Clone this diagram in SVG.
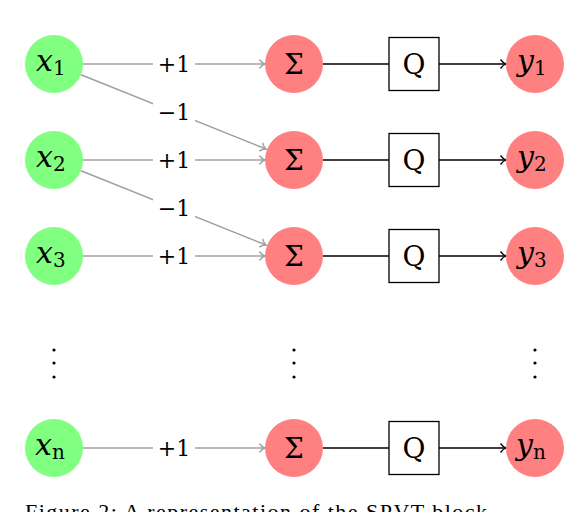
<svg xmlns="http://www.w3.org/2000/svg" width="564" height="512" viewBox="0 0 564 512">
<style>
.in{fill:#80ff80}
.sum{fill:#ff8080}
.out{fill:#ff8080}
.g{stroke:#a0a0a0;stroke-width:1.5;fill:none}
.k{stroke:#000;stroke-width:1.3;fill:none}
text{font-family:"DejaVu Serif","Liberation Serif",serif}
.math{font-style:italic;font-size:30px;fill:#000}
.sub{font-style:normal;font-size:20px}
.rm{font-size:28px;fill:#000;text-anchor:middle}
.lbl{font-size:22px;fill:#000;text-anchor:middle}
.bg{fill:#fff}
.dot{fill:#000}
</style>
<defs>
<marker id="ag" markerUnits="userSpaceOnUse" markerWidth="12" markerHeight="12" refX="10" refY="6" orient="auto">
<path d="M4.5 1.5 Q7 5 10 6 Q7 7 4.5 10.5" fill="none" stroke="#a0a0a0" stroke-width="1.4"/>
</marker>
<marker id="ak" markerUnits="userSpaceOnUse" markerWidth="12" markerHeight="12" refX="10" refY="6" orient="auto">
<path d="M4.5 1.5 Q7 5 10 6 Q7 7 4.5 10.5" fill="none" stroke="#000" stroke-width="1.3"/>
</marker>
</defs>
<g id="connectors">
<line class="g" x1="83" y1="64" x2="265" y2="64" marker-end="url(#ag)"/>
<line class="g" x1="83" y1="160" x2="265" y2="160" marker-end="url(#ag)"/>
<line class="g" x1="83" y1="256" x2="265" y2="256" marker-end="url(#ag)"/>
<line class="g" x1="83" y1="448" x2="265" y2="448" marker-end="url(#ag)"/>
<line class="g" x1="81" y1="74.8" x2="266" y2="149" marker-end="url(#ag)"/>
<line class="g" x1="81" y1="170.8" x2="266" y2="245" marker-end="url(#ag)"/>
<rect class="bg" x="153" y="50" width="42" height="28"/>
<rect class="bg" x="153" y="146" width="42" height="28"/>
<rect class="bg" x="153" y="242" width="42" height="28"/>
<rect class="bg" x="153" y="434" width="42" height="28"/>
<rect class="bg" x="153" y="98" width="42" height="28"/>
<rect class="bg" x="153" y="194" width="42" height="28"/>
<text class="lbl" x="174" y="72">+1</text>
<text class="lbl" x="174" y="168">+1</text>
<text class="lbl" x="174" y="264">+1</text>
<text class="lbl" x="174" y="456">+1</text>
<text class="lbl" x="174" y="120">−1</text>
<text class="lbl" x="174" y="216">−1</text>
<line class="k" x1="323" y1="64" x2="389" y2="64"/>
<line class="k" x1="323" y1="160" x2="389" y2="160"/>
<line class="k" x1="323" y1="256" x2="389" y2="256"/>
<line class="k" x1="323" y1="448" x2="389" y2="448"/>
<line class="k" x1="439" y1="64" x2="506" y2="64" marker-end="url(#ak)"/>
<line class="k" x1="439" y1="160" x2="506" y2="160" marker-end="url(#ak)"/>
<line class="k" x1="439" y1="256" x2="506" y2="256" marker-end="url(#ak)"/>
<line class="k" x1="439" y1="448" x2="506" y2="448" marker-end="url(#ak)"/>
</g>
<g id="x1"><circle class="in" cx="54" cy="64" r="29"/><text class="math" x="36" y="71">x<tspan class="sub" dy="4">1</tspan></text></g>
<g id="x2"><circle class="in" cx="54" cy="160" r="29"/><text class="math" x="36" y="167">x<tspan class="sub" dy="4">2</tspan></text></g>
<g id="x3"><circle class="in" cx="54" cy="256" r="29"/><text class="math" x="36" y="263">x<tspan class="sub" dy="4">3</tspan></text></g>
<g id="xn"><circle class="in" cx="54" cy="448" r="29"/><text class="math" x="35" y="455">x<tspan class="sub" dy="4" font-style="italic">n</tspan></text></g>
<g id="s1"><circle class="sum" cx="294" cy="64" r="29"/><text class="rm" x="294" y="74">Σ</text></g>
<g id="s2"><circle class="sum" cx="294" cy="160" r="29"/><text class="rm" x="294" y="170">Σ</text></g>
<g id="s3"><circle class="sum" cx="294" cy="256" r="29"/><text class="rm" x="294" y="266">Σ</text></g>
<g id="sn"><circle class="sum" cx="294" cy="448" r="29"/><text class="rm" x="294" y="458">Σ</text></g>
<g id="q1"><rect x="389" y="37.5" width="50" height="53" fill="#fff" stroke="#000" stroke-width="1.3"/><text class="rm" x="414" y="74">Q</text></g>
<g id="q2"><rect x="389" y="133.5" width="50" height="53" fill="#fff" stroke="#000" stroke-width="1.3"/><text class="rm" x="414" y="170">Q</text></g>
<g id="q3"><rect x="389" y="229.5" width="50" height="53" fill="#fff" stroke="#000" stroke-width="1.3"/><text class="rm" x="414" y="266">Q</text></g>
<g id="qn"><rect x="389" y="421.5" width="50" height="53" fill="#fff" stroke="#000" stroke-width="1.3"/><text class="rm" x="414" y="458">Q</text></g>
<g id="y1"><circle class="out" cx="535" cy="64" r="29"/><text class="math" x="517" y="71">y<tspan class="sub" dy="4">1</tspan></text></g>
<g id="y2"><circle class="out" cx="535" cy="160" r="29"/><text class="math" x="517" y="167">y<tspan class="sub" dy="4">2</tspan></text></g>
<g id="y3"><circle class="out" cx="535" cy="256" r="29"/><text class="math" x="517" y="263">y<tspan class="sub" dy="4">3</tspan></text></g>
<g id="yn"><circle class="out" cx="535" cy="448" r="29"/><text class="math" x="516" y="455">y<tspan class="sub" dy="4" font-style="italic">n</tspan></text></g>
<g id="dots">
<circle class="dot" cx="54" cy="350" r="1.6"/><circle class="dot" cx="54" cy="363" r="1.6"/><circle class="dot" cx="54" cy="377" r="1.6"/>
<circle class="dot" cx="294" cy="350" r="1.6"/><circle class="dot" cx="294" cy="363" r="1.6"/><circle class="dot" cx="294" cy="377" r="1.6"/>
<circle class="dot" cx="535" cy="350" r="1.6"/><circle class="dot" cx="535" cy="363" r="1.6"/><circle class="dot" cx="535" cy="377" r="1.6"/>
</g>
<text x="25" y="519" font-size="22" fill="#000" textLength="462" style="font-family:'Liberation Serif','DejaVu Serif',serif">Figure 2: A representation of the SPVT block</text>
</svg>
